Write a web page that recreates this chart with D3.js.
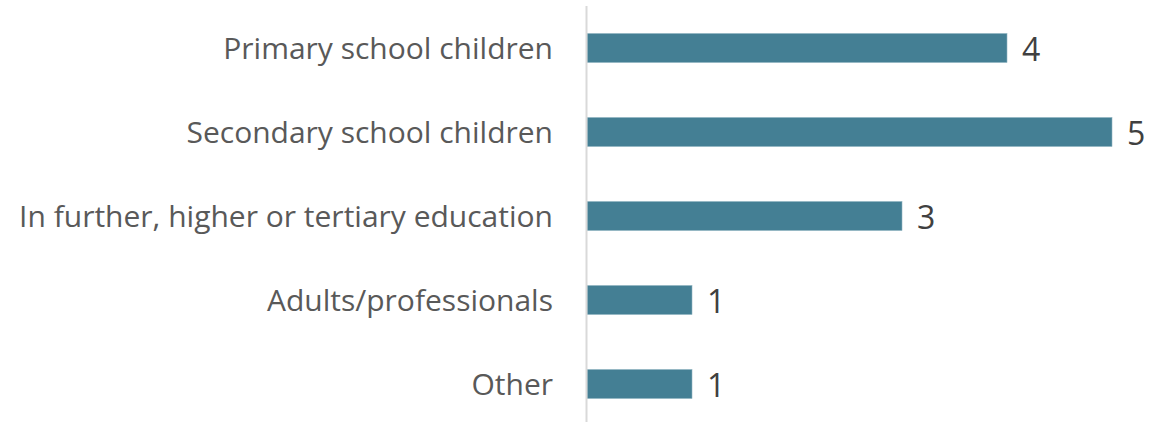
<!DOCTYPE html>
<html><head><meta charset="utf-8">
<script src="https://cdn.jsdelivr.net/npm/d3@7"></script>
<style>html,body{margin:0;padding:0;background:#fff;}svg{display:block;}</style>
</head><body>
<svg id="c" width="1168" height="422"></svg>
<script>
const categories = ["Primary school children","Secondary school children","In further, higher or tertiary education","Adults/professionals","Other"];
const values = [4,5,3,1,1];

const svg = d3.select("#c");
const x = d3.scaleLinear().domain([0,5]).range([587,1112]);
const y = d3.scaleBand().domain(categories).range([6,426]).paddingInner(0.655).paddingOuter(0.3275);

const font = "'Open Sans', 'Noto Sans', sans-serif";

svg.selectAll("rect.bar").data(categories).join("rect")
  .attr("class","bar")
  .attr("x", x(0))
  .attr("y", d => y(d))
  .attr("width", (d,i) => x(values[i]) - x(0))
  .attr("height", y.bandwidth())
  .attr("fill","#447f94")
  .attr("stroke","#8fb3c0").attr("stroke-width",0.6);

svg.append("line").attr("x1",586.5).attr("x2",586.5).attr("y1",6).attr("y2",422)
  .attr("stroke","#d9d9d9").attr("stroke-width",2);

const yAxis = d3.axisLeft(y).tickSize(0).tickPadding(0);
const ag = svg.append("g").attr("transform","translate(553,0)").call(yAxis);
ag.select(".domain").remove();
ag.selectAll("text").attr("font-family",font).attr("font-size",30).attr("fill","#595959").attr("dy","0.35em");

svg.selectAll("text.val").data(categories).join("text")
  .attr("class","val")
  .attr("x",(d,i)=>x(values[i])+15)
  .attr("y",d=>y(d)+y.bandwidth()/2+2)
  .attr("dy","0.35em")
  .attr("font-family",font).attr("font-size",32).attr("fill","#404040")
  .text((d,i)=>values[i]);
</script>
</body></html>
